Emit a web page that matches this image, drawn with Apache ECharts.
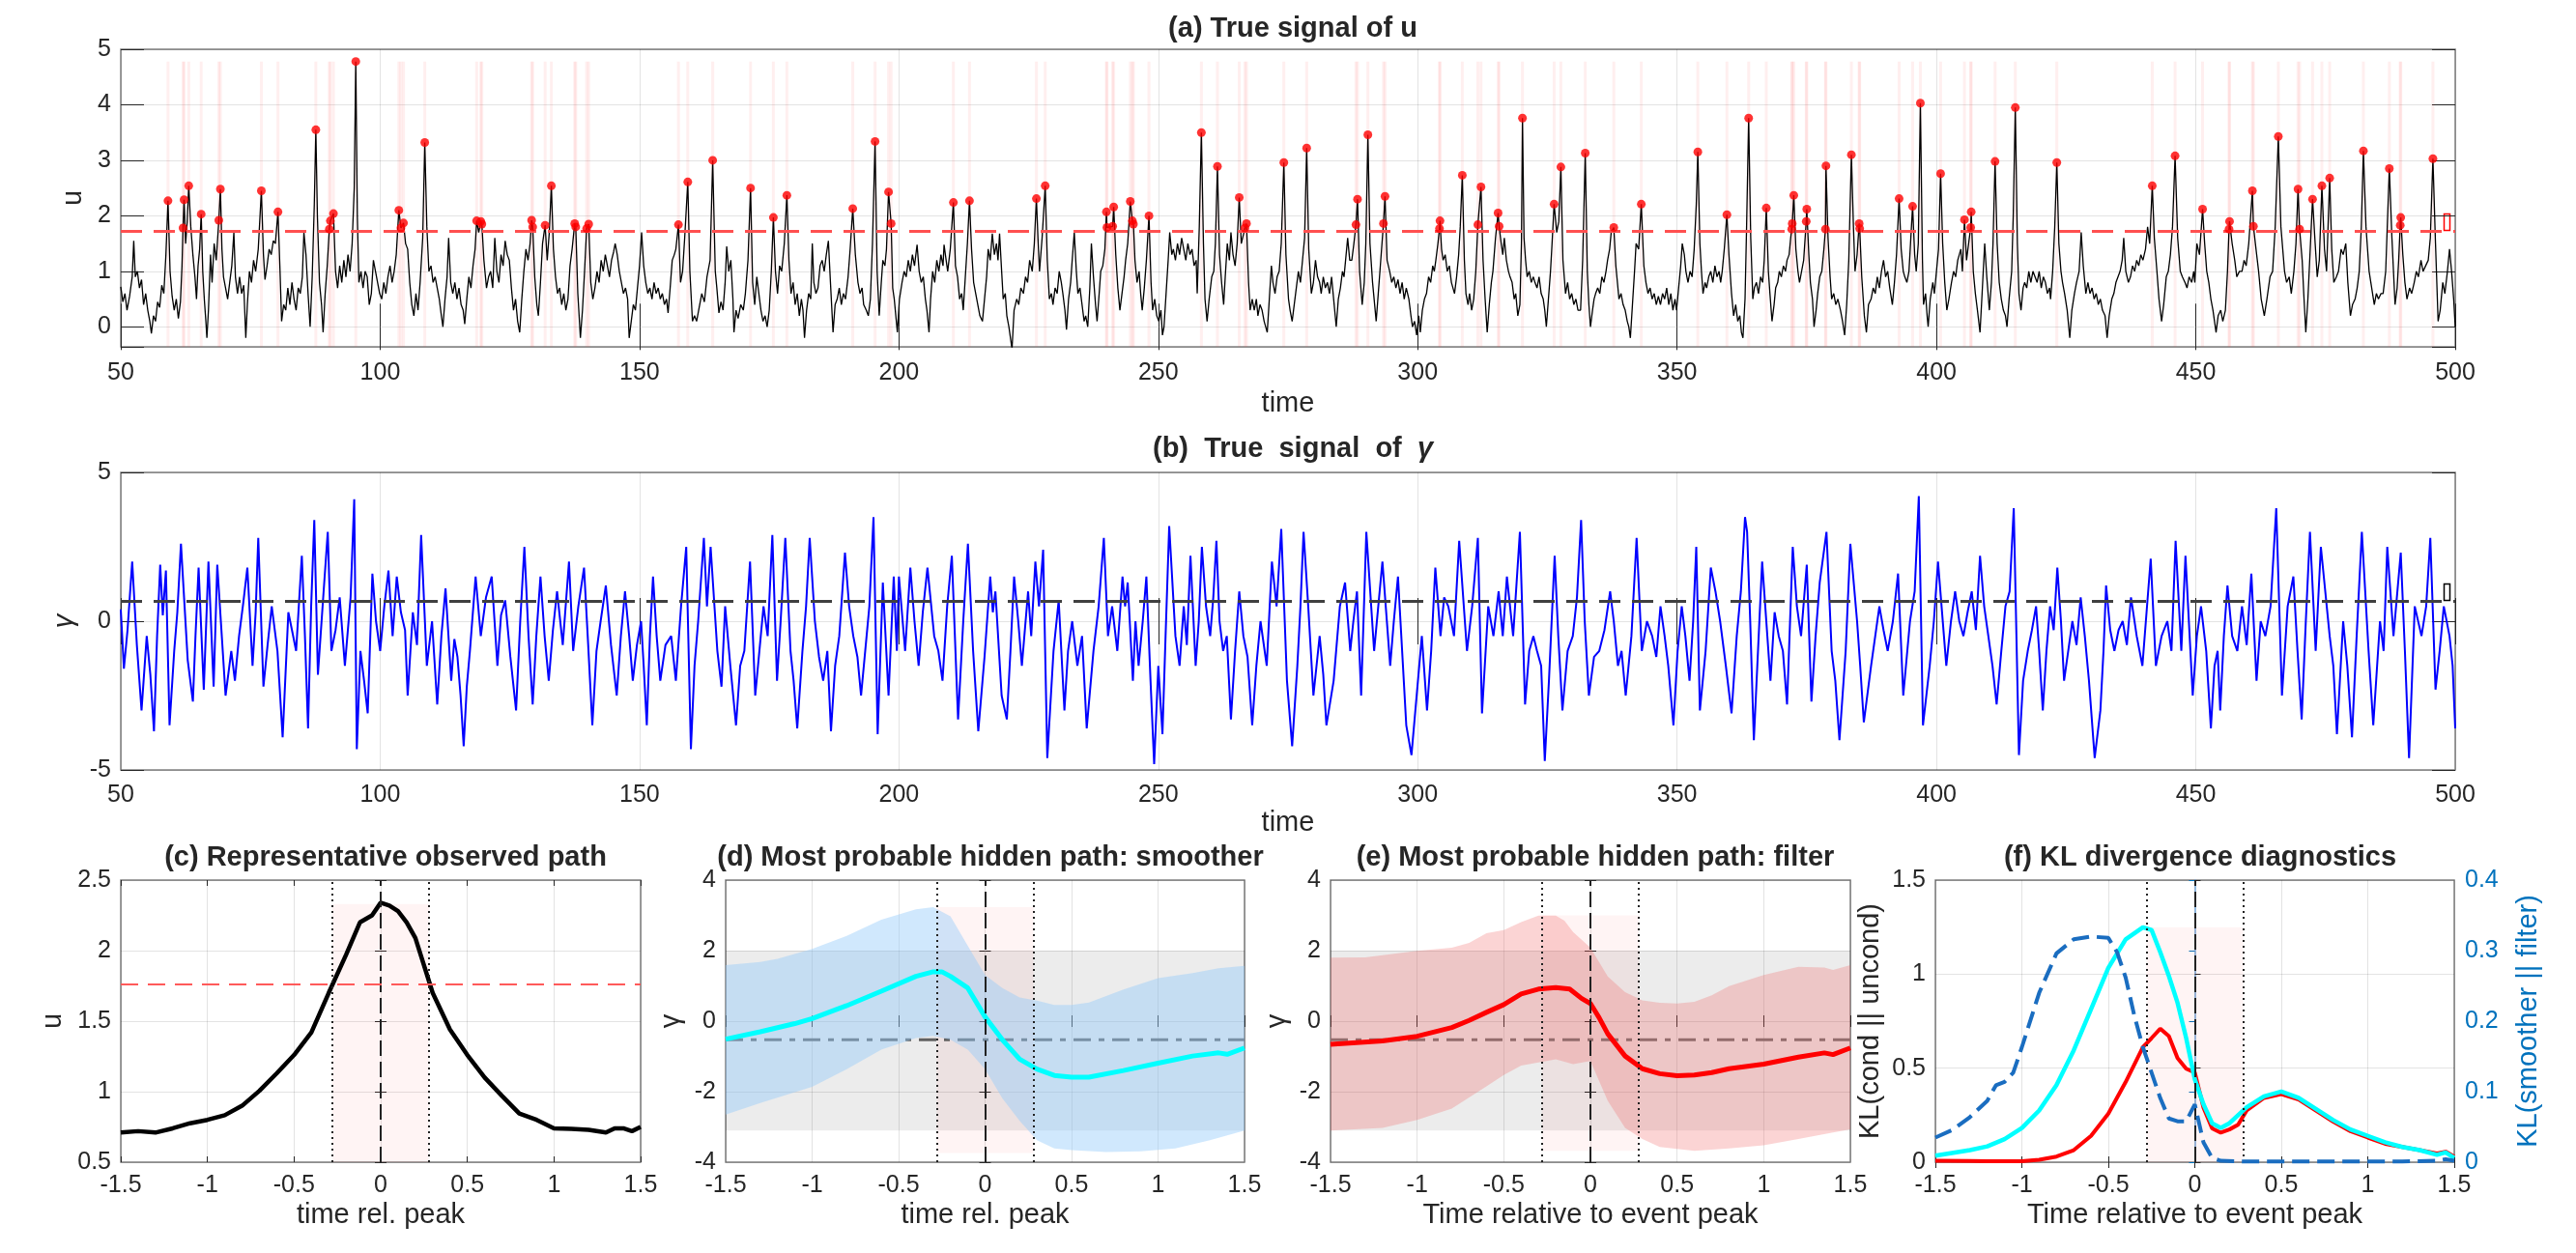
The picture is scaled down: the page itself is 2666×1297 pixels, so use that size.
<!DOCTYPE html>
<html>
<head>
<meta charset="utf-8">
<script src="https://cdn.jsdelivr.net/npm/echarts@6/dist/echarts.min.js"></script>
<style>
  html, body { margin: 0; padding: 0; background: #fff; }
  #chart { width: 2666px; height: 1297px; }
</style>
</head>
<body>
<div id="chart"></div>
<script>
// ---------- (a) observed u: trace, peaks (red dots) ----------
const uTrace = [[50,0.72],[50.4,0.45],[50.8,0.6],[51.2,0.3],[51.7,0.55],[52.2,0.9],[52.5,1.55],[52.8,0.9],[53.2,1.0],[53.6,0.7],[54,0.85],[54.4,0.4],[54.8,0.6],[55.2,0.3],[55.6,0.1],[55.9,-0.12],[56.3,0.2],[56.7,0.1],[57.1,0.45],[57.5,0.35],[57.9,0.75],[58.3,0.6],[58.7,1.3],[59.5,1.0],[59.9,0.55],[60.3,0.3],[60.7,0.5],[61.1,0.15],[61.5,0.45],[61.8,1.1],[62.5,1.5],[62.8,1.9],[63.5,1.8],[63.9,1.3],[64.3,0.9],[64.6,0.5],[64.9,1.1],[65.2,1.4],[65.8,1.0],[66.1,0.5],[66.4,0.1],[66.6,-0.2],[66.9,0.3],[67.3,1.3],[67.6,0.8],[68,1.5],[68.4,1.2],[69.5,1.4],[69.8,0.9],[70.2,0.7],[70.6,0.5],[71,0.8],[71.4,1.1],[71.8,1.7],[72.1,0.9],[72.5,0.6],[72.9,0.9],[73.3,0.6],[73.7,0.75],[74.1,-0.2],[74.4,0.4],[74.8,1.0],[75.2,0.8],[75.6,1.2],[76,1.0],[76.5,1.4],[77.5,1.3],[77.8,0.85],[78.2,1.1],[78.6,1.4],[79,1.3],[79.4,1.55],[79.8,1.5],[80.7,1.0],[81,0.1],[81.4,0.4],[81.8,0.3],[82.2,0.7],[82.6,0.4],[83,0.8],[83.4,0.5],[83.8,0.3],[84.2,0.7],[84.6,0.6],[85,0.9],[85.3,1.7],[85.7,1.3],[86.1,0.6],[86.5,0.0],[86.9,0.9],[87.3,2.2],[87.9,2.0],[88.3,0.8],[88.7,0.4],[89,-0.1],[89.4,0.6],[89.8,1.1],[91.4,1.0],[91.8,0.7],[92.2,1.1],[92.6,0.8],[93,1.2],[93.4,0.9],[93.8,1.3],[94.2,1.0],[94.6,1.5],[95,2.5],[95.6,2.0],[95.9,0.8],[96.3,1.0],[96.7,0.7],[97.1,1.0],[97.5,0.9],[97.9,0.4],[98.3,0.6],[98.7,1.2],[99.1,1.0],[99.5,0.8],[99.9,0.6],[100.3,0.5],[100.7,0.8],[101.1,0.6],[101.5,0.9],[101.9,1.1],[102.3,0.8],[102.7,1.0],[103.1,1.3],[104.9,1.5],[105.3,1.4],[105.7,0.8],[106.1,0.4],[106.5,0.2],[106.9,0.6],[107.3,0.3],[107.7,0.8],[108.2,1.6],[109,1.8],[109.4,1.0],[109.8,1.1],[110.2,0.8],[110.6,0.9],[111,0.7],[111.4,0.5],[111.8,0.2],[112.1,0.0],[112.5,0.5],[112.9,0.9],[113.2,1.6],[113.6,0.8],[114,0.6],[114.4,0.8],[114.8,0.5],[115.2,0.7],[115.6,0.4],[116,0.3],[116.3,0.05],[116.7,0.5],[117.1,0.9],[117.5,0.7],[117.9,1.1],[118.3,1.4],[119.0,1.7],[120,1.2],[120.5,0.7],[120.9,0.9],[121.3,1.0],[121.7,0.7],[122.1,1.6],[122.5,1.0],[122.9,0.8],[123.3,1.3],[123.7,1.1],[124.1,1.55],[124.5,1.3],[124.9,1.2],[125.3,0.7],[125.7,0.3],[126.1,0.5],[126.5,0.1],[126.9,-0.1],[127.3,0.5],[127.7,1.0],[128.1,1.4],[128.5,1.2],[128.9,1.5],[129.8,0.9],[130.2,0.4],[130.5,0.2],[130.9,0.8],[131.3,1.5],[132.2,1.2],[132.6,1.7],[133.4,1.4],[133.8,0.9],[134.2,0.6],[134.6,0.7],[135,0.4],[135.4,0.6],[135.8,0.3],[136.2,0.5],[136.6,1.1],[137,1.4],[138.1,0.6],[138.6,-0.2],[139,0.3],[139.4,1.0],[140.6,0.8],[141,0.5],[141.4,0.7],[141.8,1.0],[142.2,0.8],[142.6,1.2],[143,1.0],[143.4,1.3],[143.8,1.1],[144.2,0.9],[144.6,1.2],[145,1.35],[145.3,1.5],[145.7,1.3],[146.1,1.0],[146.5,0.8],[146.9,0.6],[147.3,0.7],[147.7,0.5],[148,-0.2],[148.4,0.1],[148.8,0.4],[149.2,0.3],[149.6,0.7],[150,1.1],[150.4,1.7],[150.8,1.1],[151.2,0.8],[151.6,0.6],[152,0.7],[152.4,0.5],[152.8,0.8],[153.2,0.6],[153.6,0.7],[154,0.5],[154.4,0.6],[154.8,0.4],[155.2,0.5],[155.5,0.25],[155.9,0.7],[156.3,1.2],[156.7,1.3],[157,1.4],[157.9,0.8],[158.3,1.0],[158.7,1.6],[159.7,1.0],[160.2,0.1],
[160.6,0.2],[161.0,0.1],[161.5,0.35],[162.0,0.6],[162.5,0.45],[163.0,0.9],[163.6,1.2],[164.6,1.0],[164.9,0.7],[165.3,0.25],[165.7,0.45],[166.1,0.3],[166.5,0.8],[166.8,1.45],[167.2,1.0],[167.6,1.2],[168.0,0.5],[168.2,-0.1],[168.6,0.3],[169.0,0.15],[169.5,0.4],[170.0,0.3],[170.4,0.6],[170.9,1.2],[171.8,0.8],[172.2,0.4],[172.6,0.9],[173.0,0.6],[173.4,0.3],[173.8,0.1],[174.2,0.2],[174.6,0.0],[175.0,0.3],[175.4,1.0],[176.2,1.0],[176.6,0.6],[177.0,1.1],[177.4,1.0],[177.9,1.5],[178.8,1.2],[179.2,0.6],[179.6,0.8],[180.0,0.4],[180.4,0.6],[180.8,0.2],[181.2,0.5],[181.5,0.3],[181.8,-0.2],[182.2,0.3],[182.6,0.6],[183.0,0.5],[183.3,1.5],[183.6,0.8],[184.0,0.6],[184.4,0.7],[184.8,1.1],[185.2,1.2],[185.6,1.0],[186.0,1.3],[186.4,1.55],[186.8,0.8],[187.3,-0.1],[187.7,0.4],[188.1,0.5],[188.5,0.7],[188.9,0.4],[189.3,0.6],[189.7,0.5],[190.2,0.9],[190.6,1.4],[191.6,1.3],[192.1,0.8],[192.5,0.6],[192.9,0.7],[193.2,0.4],[193.7,0.3],[194.1,0.2],[194.5,0.5],[194.9,1.5],[195.8,1.0],[196.2,0.2],[196.6,0.8],[196.9,1.2],[197.3,1.1],[197.6,1.4],[198.8,0.7],[199.1,0.5],[199.4,0.2],[199.7,-0.1],[200.1,0.5],[200.6,0.8],[201.0,1.0],[201.4,0.9],[201.8,1.2],[202.2,1.0],[202.6,1.3],[203.0,1.1],[203.5,1.48],[203.9,1.0],[204.3,0.8],[204.7,0.9],[205.1,0.5],[205.4,0.3],[205.8,-0.1],[206.1,0.5],[206.5,1.0],[206.9,0.8],[207.3,1.2],[207.7,1.0],[208.1,1.3],[208.5,1.1],[208.7,1.48],[209.1,1.2],[209.4,1.0],[209.9,1.4],[210.9,1.1],[211.3,0.9],[211.7,0.5],[212.1,0.6],[212.4,0.3],[212.8,0.9],[213.2,1.5],[214.0,1.4],[214.4,0.8],[214.8,0.6],[215.2,0.4],[215.6,0.2],[216.1,0.1],[216.5,0.5],[216.9,0.9],[217.2,1.4],[217.6,1.2],[218.0,1.68],[218.4,1.3],[218.8,1.5],[219.1,1.2],[219.4,1.68],[219.8,1.0],[220.1,0.5],[220.5,0.6],[220.8,0.2],[221.2,0.0],[221.8,-0.4],[222.2,0.3],[222.7,0.5],[223.1,0.4],[223.5,0.7],[224.0,0.6],[224.4,0.9],[224.8,0.8],[225.2,1.2],[225.7,1.0],[226.1,1.5],[226.8,1.6],[227.1,1.0],[227.6,1.6],[228.6,1.2],[229.0,0.5],[229.4,0.6],[229.7,0.4],[230.1,0.7],[230.5,0.6],[230.9,1.0],[231.3,0.8],[231.6,0.6],[232.0,0.3],[232.3,-0.05],[232.7,0.5],[233.1,0.8],[233.4,1.2],[233.8,1.7],[234.2,1.0],[234.5,0.6],[234.9,0.7],[235.3,0.4],[235.7,0.1],[236.0,0.2],[236.4,0.0],[236.8,0.7],[237.1,1.5],[237.5,0.9],[237.9,0.4],[238.2,0.1],[238.6,0.6],[238.9,1.0],[239.3,1.1],[239.7,1.4],[241.8,1.3],[242.2,0.7],[242.6,0.3],[243.0,0.6],[243.4,0.9],[243.7,1.2],[244.1,1.5],[245.5,1.2],[245.9,0.8],[246.3,1.0],[246.6,0.6],[246.9,0.3],[247.3,0.7],[247.7,1.2],[248.6,0.8],[248.9,0.3],[249.3,0.5],[249.7,0.2],[250.1,0.1],[250.5,0.3],[250.8,-0.15],[251.1,0.0],[251.5,0.6],[251.9,1.2],[252.2,1.7],[252.6,1.3],[252.9,1.4],[253.3,1.2],[253.7,1.5],[254.1,1.3],[254.5,1.6],[254.9,1.4],[255.3,1.2],[255.7,1.5],[256.1,1.3],[256.5,1.4],[256.9,1.1],[257.3,1.2],[257.5,0.6],[257.9,1.8],[258.7,1.5],[259.0,0.5],[259.4,0.1],[259.8,0.5],[260.3,0.9],[260.7,1.0],[261.0,1.5],[261.8,1.3],[262.2,0.8],[262.6,0.4],[262.9,0.9],[263.3,1.5],[263.7,1.2],[264.0,1.7],[264.4,1.3],[264.8,1.1],[265.2,1.5],[266.0,1.5],[267.4,0.8],[267.7,0.3],[268.1,0.5],[268.5,0.3],[268.9,0.5],[269.2,0.2],[269.6,0.4],[270.0,0.3],[270.4,0.1],[270.7,0.0],[271.0,-0.1],[271.4,0.5],[271.8,1.1],[272.1,0.8],[272.5,0.6],[272.9,0.9],[273.3,1.0],[273.7,1.5],[274.6,1.3],[275.1,0.5],[275.4,0.3],[275.8,0.1],[276.2,0.4],[276.6,0.7],[277.0,1.0],[277.4,0.8],[277.8,1.2],[278.2,1.6],[279.0,1.4],[279.5,0.6],[279.9,0.8],[280.3,1.2],[280.7,0.9],[281.1,0.8],[281.4,0.6],[281.8,0.9],[282.2,0.7],[282.6,0.8],[283.0,0.6],[283.4,0.9],[283.8,0.5],[284.3,0.0],[284.7,0.5],[285.1,0.7],[285.5,1.0],[285.8,0.9],[286.2,1.3],[286.5,1.6],[286.9,1.2],[287.3,1.2],[287.7,1.5],[288.8,1.0],[289.3,0.4],[289.7,0.8],[290.0,1.5],[290.8,1.5],[291.3,0.8],[291.6,0.5],[292.0,0.1],[292.4,0.6],[292.8,1.1],[294.1,1.2],[294.6,1.0],[295.0,0.8],[295.4,0.9],[295.8,0.7],[296.2,0.85],[296.6,0.6],[297.0,0.8],[297.4,0.5],[297.8,0.7],[298.3,0.5],[298.7,0.2],[299.0,0.0],[299.4,0.1],[299.8,-0.15],[300.2,0.2],[300.5,-0.1],[300.9,0.3],[301.3,0.5],[301.7,0.6],[302.1,0.9],[302.5,0.8],[302.9,1.1],[303.2,1.0],[303.5,1.2],[303.9,1.5],[304.6,1.4],[304.9,1.2],[305.3,1.3],[305.7,1.0],[306.1,1.1],[306.5,0.8],[306.8,0.7],[307.1,0.6],[307.5,0.9],[307.9,1.3],[308.2,1.8],[309.0,1.2],[309.3,0.6],[309.7,0.4],[310.0,0.6],[310.4,0.3],[310.8,0.5],[311.2,1.0],[312.6,1.2],[313.0,0.5],[313.4,-0.1],[313.8,0.4],[314.2,0.8],[314.5,1.0],[315.0,1.6],[316.1,1.5],[316.4,1.3],[316.7,1.6],[317.1,1.2],[317.5,1.0],[317.8,0.9],[318.2,0.8],[318.6,0.5],[318.9,0.6],[319.3,0.2],[319.7,0.4],[320.0,1.5],[320.5,1.6],[320.8,1.2],[321.1,0.9],[321.5,1.0],[321.9,0.8],[322.3,0.9],[322.6,0.8],[323.0,0.7],[323.4,0.9],[323.8,0.6],[324.2,0.5],[324.5,0.3],[324.8,0.0],[325.2,0.5],[325.6,1.0],[325.9,1.5],[326.8,1.7],[327.2,1.9],[328.0,1.2],[328.5,0.6],[328.9,0.8],[329.3,0.5],[329.7,0.6],[330.1,0.4],[330.5,0.5],[330.9,0.3],[331.4,0.3],[331.8,1.2],[332.7,1.0],[333.0,0.4],[333.3,0.0],[333.7,0.3],[334.0,0.5],[334.3,0.6],[334.7,0.7],[335.1,0.6],[335.5,0.9],[335.9,0.8],[336.3,1.0],[336.6,1.2],[337.0,1.4],[337.3,1.7],[338.2,1.1],[338.5,0.8],[338.8,0.5],[339.2,0.6],[339.6,0.4],[340.0,0.3],[340.4,0.1],[340.7,0.0],[341.0,-0.2],[341.4,0.4],[341.8,1.0],[342.1,1.5],[342.6,1.4],[343.6,1.1],[344.0,0.8],[344.4,0.6],[344.8,0.7],[345.2,0.5],[345.6,0.6],[346.0,0.4],[346.4,0.55],[346.8,0.4],[347.2,0.6],[347.6,0.5],[348.0,0.7],[348.4,0.4],[348.8,0.6],[349.2,0.3],[349.6,0.5],[349.9,0.3],[350.3,0.7],[350.7,1.1],[351.0,1.5],[351.4,1.3],[351.7,1.0],[352.1,0.8],[352.5,1.0],[352.9,0.9],[353.3,1.4],[353.7,2.2],[354.4,1.5],[354.7,1.0],[355.0,0.6],[355.4,0.8],[355.7,0.7],[356.1,0.9],[356.5,1.0],[356.9,0.8],[357.3,1.1],[357.7,0.9],[358.1,1.0],[358.4,0.8],[358.7,1.0],[359.1,1.4],[360.0,1.3],[360.5,0.6],[360.9,0.2],[361.3,0.4],[361.7,0.1],[362.1,0.2],[362.4,-0.1],[362.7,-0.2],[363.1,0.5],[363.4,1.8],[364.2,1.6],[364.6,0.5],[364.9,0.7],[365.3,0.8],[365.7,0.6],[366.1,0.9],[366.5,0.8],[366.8,1.2],[367.6,1.0],[367.9,0.6],[368.3,0.1],[368.7,0.4],[369.0,0.7],[369.4,0.8],[369.7,1.0],[370.1,0.9],[370.5,1.1],[370.9,1.0],[371.2,1.2],[371.6,1.3],[371.9,1.6],[372.9,1.4],[373.3,1.0],[373.6,0.8],[374.0,1.0],[374.4,1.2],[375.4,1.3],[375.7,0.8],[376.1,0.5],[376.4,0.0],[376.8,0.3],[377.1,0.6],[377.5,0.9],[377.9,1.0],[378.3,1.4],[379.1,1.6],[379.5,0.9],[379.8,0.5],[380.2,0.6],[380.6,0.4],[381.0,0.5],[381.5,0.3],[381.9,0.1],[382.3,-0.15],[382.7,0.4],[383.1,1.2],[384.0,1.8],[384.3,1.0],[384.7,1.3],[385.6,0.9],[386.1,0.2],[386.5,-0.1],[386.9,0.4],[387.4,0.5],[387.8,0.7],[388.2,0.6],[388.6,0.9],[389.0,0.7],[389.4,1.0],[389.8,1.2],[390.2,0.9],[390.6,1.0],[391.0,0.7],[391.5,0.4],[391.9,0.8],[392.3,1.3],[393.2,1.4],[393.6,1.0],[393.9,0.9],[394.3,0.8],[394.7,1.0],[395.0,1.5],[395.8,1.3],[396.1,1.0],[396.5,1.5],[397.3,1.2],[397.5,0.4],[397.9,0.6],[398.2,0.2],[398.4,0.0],[398.8,0.5],[399.3,0.8],[399.6,0.6],[400.0,1.0],[400.4,1.4],[401.2,1.5],[401.6,0.8],[402.0,0.3],[402.4,0.5],[402.9,0.8],[403.3,1.0],[403.7,0.9],[404.1,1.2],[404.7,1.4],[405.0,1.0],[405.8,1.2],[406.2,1.5],[407.1,1.0],[407.5,0.6],[407.9,0.3],[408.4,-0.1],[408.8,0.6],[409.3,1.5],[409.7,0.9],[410.2,0.3],[410.6,0.8],[410.9,1.5],[411.7,1.5],[412.1,0.8],[412.5,0.5],[412.9,0.3],[413.3,0.2],[413.6,0.0],[414.0,0.5],[414.5,1.0],[414.8,2.0],[415.6,1.5],[415.9,0.6],[416.3,0.3],[416.7,0.7],[417.0,0.8],[417.4,0.7],[417.8,1.0],[418.2,0.8],[418.6,1.0],[419.0,0.9],[419.4,0.8],[419.8,1.0],[420.2,0.7],[420.6,0.9],[421.0,0.8],[421.4,0.6],[421.8,0.7],[422.0,0.5],[422.4,1.0],[422.8,1.8],[423.6,1.5],[424.0,1.0],[424.3,0.8],[424.7,0.6],[425.2,0.3],[425.7,-0.2],[426.1,0.3],[426.6,0.6],[427.0,0.8],[427.5,1.0],[427.9,1.7],[428.3,1.1],[428.8,0.6],[429.2,0.8],[429.6,0.6],[430.0,0.7],[430.4,0.5],[430.8,0.6],[431.2,0.4],[431.6,0.5],[432.0,0.3],[432.5,0.2],[432.9,-0.2],[433.3,0.2],[433.8,0.5],[434.2,0.6],[434.6,0.8],[435.0,0.9],[435.4,1.0],[435.8,1.2],[436.1,1.6],[436.5,1.0],[437.0,0.8],[437.4,0.9],[437.8,1.1],[438.2,1.0],[438.6,1.2],[439.0,1.1],[439.4,1.3],[439.8,1.2],[440.3,1.4],[440.7,1.8],[441.1,1.5],[442.0,1.6],[442.5,1.0],[442.9,0.5],[443.4,0.1],[443.8,0.4],[444.3,0.9],[444.7,1.0],[445.1,1.3],[445.5,1.8],[446.5,1.6],[447.0,1.0],[447.4,0.9],[447.9,0.8],[448.3,0.7],[448.7,0.9],[449.2,0.8],[449.6,1.0],[449.8,0.8],[450.2,1.5],[450.7,1.3],[451.7,1.5],[452.1,1.0],[452.5,0.8],[452.9,0.5],[453.3,0.3],[453.9,-0.1],[454.3,0.2],[454.8,0.3],[455.2,0.1],[455.7,0.3],[456.1,1.0],[457.0,1.5],[457.5,1.2],[457.9,0.9],[458.4,1.0],[458.9,1.0],[459.3,1.2],[459.7,1.1],[460.2,1.5],[461.6,1.4],[462.1,1.0],[462.6,0.5],[463.2,0.2],[463.7,0.5],[464.3,0.9],[464.8,1.0],[465.3,1.8],[466.4,1.8],[467.1,1.0],[467.5,0.8],[468.0,0.9],[468.4,0.6],[468.9,1.0],[469.3,1.5],[470.5,1.2],[470.8,0.6],[471.2,-0.1],[471.6,0.5],[472.1,1.5],[473.0,1.5],[473.4,0.9],[473.8,1.2],[474.8,1.4],[475.2,1.0],[476.2,1.4],[476.6,0.8],[477.1,0.9],[477.5,1.0],[478.0,1.4],[478.4,1.3],[478.9,1.5],[479.3,0.8],[479.8,0.2],[480.2,0.4],[480.7,0.5],[481.1,0.7],[481.5,1.0],[481.9,1.8],[482.8,1.8],[483.4,1.0],[483.9,0.7],[484.4,0.4],[484.8,0.6],[485.2,0.5],[485.7,0.6],[486.1,0.6],[486.6,1.0],[486.9,1.8],[487.8,1.6],[488.4,0.4],[488.8,0.7],[489.1,1.2],[489.9,1.3],[490.3,0.8],[490.7,0.5],[491.2,0.7],[491.6,0.6],[492.1,0.8],[492.5,1.0],[492.9,0.9],[493.4,1.2],[493.8,1.0],[494.3,1.1],[494.8,1.2],[495.2,1.6],[496.2,1.5],[496.7,0.1],[497.1,0.3],[497.6,0.8],[498.0,0.6],[498.5,1.0],[498.9,1.4],[499.3,1.0],[499.7,0.5],[500.0,0.0]];

const peakT = [59.1,62.0,62.2,63.1,65.5,68.9,69.2,77.1,80.3,87.6,90.2,90.4,91.0,95.3,103.6,104.0,104.5,108.6,118.6,119.4,119.6,129.2,129.4,131.8,133.0,137.5,137.7,139.8,140.2,157.5,159.3,164.1,171.4,175.8,178.4,191.1,195.4,198.0,198.5,210.5,213.6,226.5,228.2,240.0,240.1,241.2,241.4,244.6,245.0,245.2,248.2,258.3,261.4,265.6,266.7,267.0,274.2,278.6,288.1,288.4,290.4,293.4,293.7,304.2,304.3,308.6,311.6,312.2,315.5,315.7,320.2,326.3,327.6,332.3,337.8,343.1,354.0,359.6,363.8,367.2,372.1,372.2,372.5,374.9,375.0,378.6,378.7,383.6,385.1,385.2,392.8,395.4,396.9,400.8,405.4,406.6,406.7,411.3,415.2,423.2,441.6,446.0,451.3,456.4,456.5,460.9,461.1,465.9,469.7,470.0,472.5,474.3,475.8,482.3,487.3,489.4,489.5,495.7];
const peakU = [2.27,1.78,2.29,2.54,2.03,1.92,2.48,2.45,2.07,3.55,1.76,1.91,2.04,4.78,2.10,1.78,1.87,3.32,1.91,1.90,1.85,1.92,1.80,1.83,2.54,1.86,1.80,1.77,1.85,1.84,2.61,3.00,2.50,1.97,2.37,2.13,3.34,2.43,1.86,2.24,2.27,2.31,2.54,2.07,1.79,1.81,2.16,2.26,1.91,1.85,2.00,3.50,2.89,2.33,1.78,1.86,2.96,3.22,1.84,2.30,3.46,1.86,2.35,1.77,1.91,2.73,1.84,2.52,2.05,1.81,3.76,2.21,2.88,3.13,1.79,2.21,3.15,2.02,3.76,2.14,1.76,1.86,2.37,1.90,2.12,1.76,2.90,3.10,1.86,1.77,2.31,2.17,4.03,2.76,1.93,1.79,2.07,2.98,3.95,2.96,2.54,3.08,2.12,1.76,1.90,2.45,1.81,3.43,2.48,1.76,2.30,2.54,2.68,3.17,2.85,1.83,1.97,3.03];
const uThresh = 1.72;
const bandTop = 4.78;
const winHalf = 0.28;

// ---------- (b) hidden gamma ----------
const gTrace = [[50,0.4],[50.6,-1.6],[51.3,-0.3],[52.2,2.0],[53.1,-0.8],[54.0,-3.0],[55.0,-0.5],[55.7,-1.8],[56.4,-3.7],[57.0,-0.5],[57.6,1.9],[58.1,0.2],[58.7,1.7],[59.4,-3.5],[60.3,-1.0],[60.9,0.3],[61.6,2.6],[62.3,0.5],[62.9,-1.3],[63.9,-2.7],[64.4,-0.5],[65.0,1.8],[66.0,-2.3],[66.9,2.0],[67.9,-2.2],[68.6,1.9],[69.4,-0.3],[70.2,-2.5],[71.3,-1.0],[72.0,-2.0],[72.8,-0.5],[73.6,0.6],[74.4,1.8],[75.4,-1.5],[76.0,0.3],[76.5,2.8],[77.5,-2.2],[78.3,-0.8],[79.1,0.5],[80.2,-1.0],[81.2,-3.9],[82.3,0.3],[83.0,-0.3],[83.8,-1.0],[84.9,2.2],[85.5,-0.5],[86.1,-3.6],[86.7,0.5],[87.3,3.4],[88.0,-1.8],[89.1,1.0],[89.9,3.0],[90.6,-1.0],[91.4,-0.3],[92.2,0.8],[93.2,-1.5],[94.3,0.8],[95.0,4.1],[95.5,-4.3],[96.2,-1.0],[96.9,-2.0],[97.6,-3.1],[98.5,1.6],[99.2,0.0],[100,-1.0],[100.8,0.5],[101.6,1.7],[102.4,-0.5],[103.2,1.5],[104.0,0.3],[104.8,-0.3],[105.3,-2.5],[106.3,0.3],[107.1,-0.8],[107.9,2.9],[109.0,-1.5],[110.0,0.0],[111.0,-2.8],[111.8,-0.5],[112.6,1.1],[113.7,-2.0],[114.3,-0.6],[114.9,-1.2],[115.5,-2.5],[116.1,-4.2],[116.7,-2.2],[117.3,-1.0],[118.4,1.5],[119.4,-0.5],[120.4,0.8],[121.5,1.5],[122.6,-1.5],[123.3,0.2],[124.1,0.7],[125.1,-1.2],[126.2,-3.0],[127.0,0.0],[127.8,2.5],[128.6,-0.5],[129.4,-2.8],[130.1,-0.5],[130.9,1.5],[131.7,-0.5],[132.5,-2.0],[133.3,-0.3],[134.1,1.0],[135.2,-0.8],[136.4,2.0],[137.2,-1.0],[138.2,0.5],[139.3,1.8],[140.1,-0.8],[140.9,-3.5],[141.7,-1.0],[142.5,0.0],[143.5,1.2],[144.5,-0.8],[145.6,-2.5],[146.4,-0.5],[147.2,1.0],[148.0,-0.5],[148.7,-2.0],[149.5,-0.8],[150.3,0.0],[150.8,-1.5],[151.4,-3.5],[152.0,-0.5],[152.6,1.5],[153.3,-0.5],[154.0,-2.0],[155.0,-0.8],[156.1,-0.5],[157.0,-2.0],[158.0,0.5],[159.0,2.5],[159.9,-4.3],[160.6,-1.5],[161.3,0.0],[162.4,2.8],[163.0,0.5],[163.7,2.5],[165.0,-1.0],[165.8,-2.2],[166.5,0.5],[167.5,-1.5],[168.6,-3.5],[169.4,-1.5],[170.2,-1.0],[171.3,2.0],[172.3,-2.5],[173.1,-1.0],[173.9,0.5],[174.7,-0.5],[175.6,2.9],[176.5,-2.0],[177.2,0.0],[178.1,2.8],[179.1,-1.0],[179.7,-2.0],[180.4,-3.6],[181.4,-1.0],[182.1,0.5],[182.8,2.8],[183.8,0.0],[184.6,-1.2],[185.4,-2.0],[186.2,-1.0],[186.9,-3.7],[187.7,-1.5],[188.5,-0.5],[189.6,2.3],[190.4,0.5],[191.2,-0.5],[192.0,-1.2],[192.7,-2.5],[193.5,-1.0],[194.3,0.5],[195.1,3.5],[195.9,-3.8],[196.9,1.3],[198.0,-2.5],[199.0,1.5],[199.6,-1.0],[200.0,1.5],[201.2,-1.0],[202.2,1.8],[203.0,0.0],[203.8,-1.5],[204.6,0.3],[205.5,1.8],[206.8,-0.5],[207.6,-1.0],[208.4,-2.0],[209.3,0.5],[210.2,2.2],[211.4,-3.3],[212.4,0.0],[213.3,2.6],[214.3,-1.0],[215.3,-3.7],[216.5,-1.2],[217.6,1.5],[218.1,0.3],[218.6,1.0],[219.8,-2.5],[220.8,-3.3],[221.5,-1.0],[222.2,1.5],[223.0,0.0],[223.7,-1.5],[224.9,1.0],[225.5,-0.5],[226.3,2.0],[227.0,0.5],[227.8,2.4],[228.6,-4.6],[229.8,-1.0],[230.8,0.7],[231.9,-3.0],[232.6,-1.0],[233.4,0.0],[234.4,-1.5],[235.3,-0.5],[236.2,-3.6],[237.5,-1.0],[238.5,0.5],[239.5,2.8],[240.3,-0.5],[241.1,0.5],[242.1,-1.0],[243.1,1.5],[243.6,0.5],[244.1,1.3],[245.1,-2.0],[245.6,0.0],[246.2,-1.5],[247.0,0.0],[247.7,1.5],[248.5,-2.0],[249.2,-4.8],[250.0,-1.5],[250.8,-3.8],[251.4,-0.5],[252.1,3.2],[253.3,-0.5],[254.1,-1.5],[254.9,0.5],[255.5,-0.8],[256.2,2.2],[257.2,-1.5],[257.8,0.0],[258.4,2.5],[259.2,0.5],[260.0,-0.5],[260.6,0.8],[261.2,2.7],[261.8,0.0],[262.5,-1.0],[263.2,-0.5],[264.0,-3.3],[264.8,-1.0],[265.6,1.0],[266.4,-0.5],[267.2,-1.2],[268.1,-3.5],[268.9,-1.5],[269.7,0.0],[270.9,-1.5],[271.9,2.0],[272.8,0.5],[273.7,3.1],[274.8,-2.0],[275.8,-4.2],[276.8,-1.5],[277.4,0.5],[278.0,3.0],[278.9,0.5],[279.9,-2.5],[281.1,-0.5],[281.8,-1.8],[282.4,-3.5],[283.8,-2.0],[285.0,0.5],[286.0,1.3],[287.0,-1.0],[287.6,0.0],[288.3,1.0],[289.1,-2.5],[290.1,3.0],[291.6,-1.0],[292.4,0.5],[293.2,2.0],[294.7,-1.5],[295.4,0.0],[296.2,1.5],[297.0,-1.0],[297.8,-3.5],[298.8,-4.5],[299.8,-2.5],[300.8,-0.5],[301.8,-3.0],[302.6,-1.0],[303.4,1.8],[304.4,-0.5],[305.1,0.8],[305.9,0.5],[307.0,-0.5],[308.0,2.7],[309.5,-1.0],[310.5,0.5],[311.6,2.8],[312.4,-3.1],[313.6,0.5],[314.6,-0.5],[315.6,1.0],[316.4,-0.5],[317.2,1.5],[318.4,-0.5],[319.7,3.0],[320.7,-2.8],[321.5,-1.0],[322.3,-0.5],[323.0,-1.0],[323.8,-1.5],[324.5,-4.7],[325.3,-2.0],[326.4,2.2],[327.1,-0.5],[327.9,-3.0],[328.9,-1.0],[329.9,-0.5],[330.7,0.8],[331.5,3.4],[332.2,0.0],[333.0,-2.5],[334.0,-1.2],[335.0,-1.0],[336.0,-0.3],[337.1,1.0],[337.8,0.0],[338.6,-1.5],[339.3,-1.0],[340.1,-2.5],[341.2,-0.5],[342.2,2.8],[343.2,-1.0],[344.2,0.0],[345.2,-0.5],[346.0,-1.2],[346.8,0.5],[347.6,-0.5],[348.3,-1.5],[349.3,-3.5],[350.1,-1.0],[350.9,0.5],[351.6,-0.5],[352.4,-2.0],[353.1,0.0],[353.7,2.5],[354.4,-3.0],[355.5,-1.0],[356.5,1.8],[357.4,1.0],[358.3,0.0],[359.4,-1.5],[360.5,-3.1],[361.5,-0.5],[362.3,1.0],[363.1,3.5],[363.5,3.0],[364.1,0.0],[364.8,-4.0],[365.6,-1.0],[366.4,2.0],[367.2,0.0],[368.0,-2.0],[368.8,0.3],[369.6,-0.5],[370.4,-1.0],[371.2,-2.8],[372.3,2.5],[373.1,0.5],[373.9,-0.5],[375.0,1.9],[375.9,-2.7],[376.7,-0.5],[377.5,1.3],[378.8,3.0],[379.8,-1.0],[380.5,-2.0],[381.3,-4.0],[382.5,-1.0],[383.4,2.6],[384.7,0.0],[385.3,-1.5],[386.0,-3.4],[387.4,-1.5],[388.2,-0.5],[389.0,0.5],[389.8,-0.3],[390.6,-1.0],[391.6,0.0],[392.6,1.6],[393.6,-2.5],[394.9,0.0],[395.8,1.0],[396.6,4.2],[397.4,-3.5],[398.7,-1.5],[399.5,0.0],[400.3,2.0],[401.9,-1.5],[402.8,0.0],[403.6,1.0],[404.4,0.0],[405.2,-0.5],[406.0,0.3],[406.8,1.0],[407.6,-0.3],[408.4,2.2],[409.2,0.5],[410.0,-0.5],[410.8,-1.5],[411.6,-2.8],[412.5,-1.0],[413.3,0.5],[414.1,1.0],[414.9,3.8],[415.9,-4.5],[416.7,-2.0],[417.6,-1.0],[418.4,-0.3],[419.2,0.5],[419.8,-1.0],[420.5,-3.0],[421.2,-1.0],[421.9,0.5],[422.6,-0.3],[423.3,1.8],[424.0,0.0],[424.6,-2.0],[425.4,-1.0],[426.2,0.0],[427.0,-0.8],[427.8,0.8],[428.6,-0.5],[429.4,-2.0],[430.5,-4.6],[431.6,-3.0],[432.2,-1.0],[432.7,1.2],[433.5,-0.3],[434.3,-1.0],[435.1,-0.3],[435.9,0.0],[436.7,-0.8],[437.5,0.8],[438.6,-0.5],[439.7,-1.5],[440.5,0.3],[441.3,2.1],[442.3,-1.5],[443.4,-0.5],[444.5,0.0],[445.3,-1.0],[446.1,2.7],[447.2,-1.0],[448.0,2.2],[449.4,-2.5],[450.2,-0.5],[451.0,0.5],[452.0,-1.0],[452.9,-3.6],[453.6,-1.5],[454.2,-1.0],[454.7,-3.0],[455.4,-0.5],[456.1,1.2],[457.0,-0.5],[458.0,-1.0],[458.9,0.5],[459.8,-0.8],[460.7,1.6],[461.7,-2.0],[462.5,0.0],[463.4,-0.5],[464.4,0.5],[465.5,3.8],[466.6,-2.5],[467.7,0.5],[468.8,1.5],[469.6,-1.0],[470.4,-3.3],[471.2,0.0],[472.0,3.0],[473.1,-1.0],[474.1,2.5],[475.8,-0.5],[476.5,-1.5],[477.2,-3.8],[478.4,0.0],[479.2,-1.5],[480.1,-3.9],[481.0,-0.5],[482.0,3.0],[483.3,-1.0],[484.2,-3.5],[485.5,0.0],[486.2,-1.0],[486.9,2.5],[488.1,-0.5],[489.5,2.3],[490.3,-1.0],[491.1,-4.6],[492.2,0.5],[493.5,-0.5],[494.4,0.5],[495.2,2.8],[496.2,-2.3],[497.0,-1.0],[497.8,0.5],[498.9,-0.5],[499.5,-1.5],[500.0,-3.6]];
const gThresh = 0.66;

// ---------- (c) representative observed path ----------
const cT = [-1.5,-1.4,-1.3,-1.2,-1.1,-1.0,-0.9,-0.8,-0.7,-0.6,-0.5,-0.4,-0.3,-0.2,-0.12,-0.05,0,0.05,0.1,0.15,0.2,0.3,0.4,0.5,0.6,0.7,0.8,0.9,1.0,1.1,1.2,1.3,1.35,1.4,1.45,1.5];
const cU = [0.71,0.72,0.71,0.74,0.776,0.80,0.833,0.90,1.006,1.13,1.26,1.42,1.70,1.97,2.20,2.25,2.34,2.32,2.28,2.20,2.09,1.70,1.44,1.26,1.10,0.97,0.845,0.80,0.74,0.737,0.73,0.71,0.74,0.74,0.72,0.75];
const cThresh = 1.76;
const cWinTop = 2.33;

// ---------- (d) smoother ----------
const dUpT = [-1.5,-1.3,-1.2,-1.0,-0.8,-0.6,-0.4,-0.3,-0.2,-0.1,0,0.1,0.2,0.3,0.4,0.5,0.6,0.8,1.0,1.2,1.35,1.5];
const dUp  = [1.59,1.68,1.77,2.05,2.42,2.88,3.17,3.23,2.97,2.14,1.31,0.94,0.67,0.58,0.46,0.46,0.53,0.9,1.22,1.36,1.5,1.57];
const dLoT = [-1.5,-1.3,-1.0,-0.8,-0.6,-0.4,-0.3,-0.2,-0.1,0,0.1,0.2,0.3,0.4,0.5,0.7,0.9,1.1,1.3,1.5];
const dLo  = [-2.65,-2.32,-1.86,-1.36,-0.81,-0.48,-0.42,-0.53,-0.81,-1.36,-2.19,-2.83,-3.38,-3.61,-3.66,-3.71,-3.69,-3.61,-3.38,-3.1];
const dMeanT = [-1.5,-1.3,-1.1,-1.0,-0.8,-0.6,-0.4,-0.3,-0.25,-0.2,-0.1,0,0.1,0.2,0.3,0.4,0.5,0.6,0.8,1.0,1.2,1.35,1.4,1.5];
const dMean  = [-0.51,-0.3,-0.07,0.07,0.44,0.85,1.27,1.40,1.40,1.27,0.94,0.12,-0.53,-1.08,-1.36,-1.54,-1.59,-1.59,-1.40,-1.19,-0.99,-0.90,-0.94,-0.76];
const dWin = [-3.74, 3.23];

// ---------- (e) filter ----------
const eUpT = [-1.5,-1.3,-1.0,-0.8,-0.7,-0.6,-0.5,-0.4,-0.3,-0.2,-0.15,-0.1,0,0.1,0.2,0.3,0.4,0.5,0.6,0.7,0.8,1.0,1.2,1.35,1.4,1.5];
const eUp  = [1.8,1.81,1.99,2.08,2.22,2.49,2.58,2.81,2.99,2.99,2.85,2.53,2.08,1.27,0.82,0.59,0.52,0.50,0.55,0.73,0.99,1.31,1.54,1.52,1.45,1.59];
const eLoT = [-1.5,-1.2,-1.0,-0.8,-0.6,-0.5,-0.4,-0.3,-0.2,-0.1,0,0.1,0.2,0.3,0.4,0.6,0.8,1.0,1.2,1.4,1.5];
const eLo  = [-3.1,-3.03,-2.8,-2.48,-1.85,-1.53,-1.26,-1.17,-1.08,-1.22,-1.13,-2.26,-3.03,-3.34,-3.57,-3.68,-3.61,-3.52,-3.34,-3.16,-3.07];
const eMeanT = [-1.5,-1.2,-1.0,-0.8,-0.7,-0.6,-0.5,-0.4,-0.3,-0.2,-0.12,-0.05,0,0.05,0.1,0.2,0.3,0.4,0.5,0.6,0.7,0.8,1.0,1.2,1.35,1.4,1.5];
const eMean  = [-0.66,-0.56,-0.43,-0.18,0.02,0.25,0.47,0.77,0.91,0.95,0.91,0.64,0.5,0.1,-0.36,-0.99,-1.35,-1.49,-1.55,-1.53,-1.46,-1.35,-1.22,-1.02,-0.90,-0.95,-0.76];
const eWin = [-3.68, 3.0];

// shared for (d),(e)
const climRange = [-3.1, 2.0];
const gBase = -0.53;

// ---------- (f) KL diagnostics ----------
const fT = [-1.5,-1.3,-1.2,-1.1,-1.0,-0.9,-0.8,-0.7,-0.6,-0.5,-0.4,-0.3,-0.25,-0.2,-0.15,-0.1,-0.05,0,0.05,0.1,0.15,0.2,0.25,0.3,0.4,0.5,0.6,0.7,0.8,0.9,1.0,1.1,1.2,1.3,1.4,1.45,1.5];
const klFilter   = [0.008,0.006,0.005,0.005,0.005,0.013,0.03,0.064,0.14,0.258,0.426,0.612,0.66,0.71,0.67,0.553,0.497,0.477,0.29,0.18,0.157,0.174,0.199,0.275,0.342,0.362,0.334,0.275,0.216,0.165,0.131,0.098,0.081,0.064,0.047,0.056,0.03];
const klSmoother = [0.035,0.064,0.084,0.123,0.182,0.275,0.41,0.595,0.814,1.033,1.185,1.249,1.235,1.117,0.99,0.848,0.66,0.44,0.308,0.207,0.182,0.207,0.25,0.292,0.35,0.376,0.342,0.283,0.224,0.174,0.14,0.106,0.081,0.064,0.039,0.052,0.022];
const klSFT = [-1.5,-1.4,-1.3,-1.2,-1.15,-1.1,-1.05,-1.0,-0.9,-0.8,-0.7,-0.6,-0.5,-0.45,-0.4,-0.35,-0.3,-0.25,-0.2,-0.15,-0.1,-0.05,0,0.05,0.1,0.15,0.3,0.6,0.9,1.2,1.4,1.45,1.5];
const klSF  = [0.035,0.046,0.064,0.087,0.109,0.114,0.127,0.163,0.24,0.296,0.316,0.32,0.318,0.298,0.262,0.208,0.163,0.127,0.091,0.062,0.058,0.058,0.082,0.028,0.006,0.002,0.001,0.001,0.001,0.001,0.002,0.004,0.002];
const fWinTop = 1.25;

// ---------- helpers ----------
const FONT = '"Liberation Sans", Arial, Helvetica, sans-serif';
const INK = '#262626';
const GRIDLINE = 'rgba(0,0,0,0.11)';
const zip = (a, b) => a.map((v, i) => [v, b[i]]);

const grids = [
  { left: 125,  top: 51,  width: 2416, height: 308 },
  { left: 125,  top: 489, width: 2416, height: 308 },
  { left: 125,  top: 911, width: 538,  height: 292 },
  { left: 751,  top: 911, width: 537,  height: 292 },
  { left: 1377, top: 911, width: 538,  height: 292 },
  { left: 2003, top: 911, width: 537,  height: 292 }
].map(g => Object.assign(g, { show: true, borderColor: '#808080', borderWidth: 1.5,
  backgroundColor: 'transparent', containLabel: false, outerBoundsMode: 'none' }));

function xAxes(gi, min, max, interval, name, tick, margin, nameGap) {
  return [
    { type: 'value', gridIndex: gi, min, max, interval, position: 'bottom',
      axisLine: { show: false },
      axisTick: { inside: true, length: tick, lineStyle: { color: INK } },
      axisLabel: { fontSize: 25, color: INK, fontFamily: FONT, margin },
      splitLine: { show: true, lineStyle: { color: GRIDLINE } },
      name, nameLocation: 'middle', nameGap,
      nameTextStyle: { fontSize: 29, color: INK, fontFamily: FONT } },
    { type: 'value', gridIndex: gi, min, max, interval, position: 'top',
      axisLine: { show: false },
      axisTick: { inside: true, length: tick, lineStyle: { color: INK } },
      axisLabel: { show: false }, splitLine: { show: false } }
  ];
}
function yLeft(gi, min, max, interval, name, nameGap, tick, extra) {
  return Object.assign({
    type: 'value', gridIndex: gi, min, max, interval, position: 'left',
    axisLine: { show: false },
    axisTick: { inside: true, length: tick, lineStyle: { color: INK } },
    axisLabel: { fontSize: 25, color: INK, fontFamily: FONT, margin: 10 },
    splitLine: { show: true, lineStyle: { color: GRIDLINE } },
    name, nameLocation: 'middle', nameGap, nameRotate: 90,
    nameTextStyle: { fontSize: 29, color: INK, fontFamily: FONT }
  }, extra || {});
}
function yRight(gi, min, max, interval, tick, extra) {
  return Object.assign({
    type: 'value', gridIndex: gi, min, max, interval, position: 'right',
    axisLine: { show: false },
    axisTick: { inside: true, length: tick, lineStyle: { color: INK } },
    axisLabel: { show: false }, splitLine: { show: false }
  }, extra || {});
}

const intOnly = v => (Math.abs(v - Math.round(v)) < 1e-6 ? String(Math.round(v)) : '');

const xAxis = [].concat(
  xAxes(0, 50, 500, 50, 'time', 24, 15, 44),
  xAxes(1, 50, 500, 50, 'time', 24, 14, 40),
  xAxes(2, -1.5, 1.5, 0.5, 'time rel. peak', 6, 12, 40),
  xAxes(3, -1.5, 1.5, 0.5, 'time rel. peak', 6, 12, 40),
  xAxes(4, -1.5, 1.5, 0.5, 'Time relative to event peak', 6, 12, 40),
  xAxes(5, -1.5, 1.5, 0.5, 'Time relative to event peak', 6, 12, 40)
);
const yAxis = [
  yLeft(0, -0.36, 5, undefined, 'u', 33, 24, {
    splitNumber: 5,
    axisLabel: { fontSize: 25, color: INK, fontFamily: FONT, margin: 10, formatter: intOnly } }),
  yRight(0, -0.36, 5, undefined, 24, { splitNumber: 5 }),
  yLeft(1, -5, 5, 5, 'γ', 44, 24, {
    nameTextStyle: { fontSize: 29, color: INK, fontFamily: FONT, fontStyle: 'italic' } }),
  yRight(1, -5, 5, 5, 24),
  yLeft(2, 0.5, 2.5, 0.5, 'u', 56, 6),
  yRight(2, 0.5, 2.5, 0.5, 6),
  yLeft(3, -4, 4, 2, 'γ', 42, 6),
  yRight(3, -4, 4, 2, 6),
  yLeft(4, -4, 4, 2, 'γ', 41, 6),
  yRight(4, -4, 4, 2, 6),
  yLeft(5, 0, 1.5, 0.5, 'KL(cond || uncond)', 53, 6),
  yRight(5, 0, 0.4, 0.1, 6, {
    axisLine: { show: true, lineStyle: { color: '#6fa3d6', width: 1.5 } },
    axisTick: { inside: true, length: 6, lineStyle: { color: '#0072BD' } },
    axisLabel: { show: true, fontSize: 25, color: '#0072BD', fontFamily: FONT, margin: 11 },
    name: 'KL(smoother || filter)', nameLocation: 'middle', nameGap: 62, nameRotate: 90,
    nameTextStyle: { fontSize: 29, color: '#0072BD', fontFamily: FONT } })
];

const dotted = { color: '#222', width: 2, type: [2, 4] };
const dashedV = { color: '#222', width: 2, type: [16, 6] };
function eventLines(extra) {
  return {
    silent: true, symbol: 'none', label: { show: false }, animation: false,
    data: [
      { xAxis: -winHalf, lineStyle: dotted },
      { xAxis: 0, lineStyle: dashedV },
      { xAxis: winHalf, lineStyle: dotted }
    ].concat(extra || [])
  };
}
function windowArea(lo, hi, extra) {
  return {
    silent: true, animation: false,
    data: [[{ xAxis: -winHalf, yAxis: lo, itemStyle: { color: 'rgba(255,60,60,0.06)' } },
            { xAxis: winHalf, yAxis: hi }]].concat(extra || [])
  };
}
function band(gi, upT, up, loT, lo, fill, z, extra) {
  return Object.assign({
    type: 'custom', xAxisIndex: 2 * gi, yAxisIndex: 2 * gi, z, silent: true,
    data: [[0, 0]],
    renderItem: (params, api) => {
      const pts = upT.map((t, i) => api.coord([t, up[i]]));
      for (let i = loT.length - 1; i >= 0; i--) pts.push(api.coord([loT[i], lo[i]]));
      return { type: 'polygon', shape: { points: pts }, style: { fill } };
    }
  }, extra || {});
}
const climArea = [[{ xAxis: -1.5, yAxis: climRange[0], itemStyle: { color: 'rgba(0,0,0,0.075)' } },
                   { xAxis: 1.5, yAxis: climRange[1] }]];

const uLine = uTrace.concat(zip(peakT, peakU)).sort((a, b) => a[0] - b[0]);

const series = [
  // (a)
  { type: 'custom', xAxisIndex: 0, yAxisIndex: 0, z: 1, silent: true,
    data: peakT.map(t => [t, bandTop]),
    renderItem: (params, api) => {
      const t = api.value(0);
      const p0 = api.coord([t - winHalf, api.value(1)]);
      const p1 = api.coord([t + winHalf, -0.36]);
      return { type: 'rect', shape: { x: p0[0], y: p0[1], width: Math.max(p1[0] - p0[0], 2), height: p1[1] - p0[1] },
               style: { fill: 'rgba(255,80,80,0.09)' } };
    } },
  { type: 'line', xAxisIndex: 0, yAxisIndex: 0, z: 3, data: uLine, showSymbol: false,
    lineStyle: { color: '#000', width: 1.3 }, silent: true,
    markLine: { silent: true, symbol: 'none', label: { show: false }, animation: false,
      data: [{ yAxis: uThresh, lineStyle: { color: '#ff5050', width: 3, type: [22, 12] } }] } },
  { type: 'scatter', xAxisIndex: 0, yAxisIndex: 0, z: 6, data: zip(peakT, peakU),
    symbolSize: 9, itemStyle: { color: '#ff0000' }, silent: true },
  // (b)
  { type: 'line', xAxisIndex: 2, yAxisIndex: 2, z: 3, data: gTrace, showSymbol: false,
    lineStyle: { color: '#0000ff', width: 2 }, silent: true,
    markLine: { silent: true, symbol: 'none', label: { show: false }, animation: false,
      data: [{ yAxis: gThresh, lineStyle: { color: '#404040', width: 3, type: [22, 12] } }] } },
  // (c)
  { type: 'line', xAxisIndex: 4, yAxisIndex: 4, z: 3, data: zip(cT, cU), showSymbol: false,
    lineStyle: { color: '#000', width: 4.5 }, silent: true,
    markArea: windowArea(0.5, cWinTop),
    markLine: eventLines([{ yAxis: cThresh, lineStyle: { color: '#ff5a5a', width: 2, type: [18, 10] } }]) },
  // (d)
  band(3, dUpT, dUp, dLoT, dLo, 'rgba(150,205,250,0.45)', 3,
    { markArea: windowArea(dWin[0], dWin[1], climArea) }),
  { type: 'line', xAxisIndex: 6, yAxisIndex: 6, z: 2, data: [[-1.5, gBase], [1.5, gBase]], showSymbol: false,
    lineStyle: { color: '#606060', width: 3, type: [18, 8, 6, 8] }, silent: true },
  { type: 'line', xAxisIndex: 6, yAxisIndex: 6, z: 4, data: zip(dMeanT, dMean), showSymbol: false,
    lineStyle: { color: '#00ffff', width: 5 }, silent: true, markLine: eventLines() },
  // (e)
  band(4, eUpT, eUp, eLoT, eLo, 'rgba(240,100,100,0.28)', 3,
    { markArea: windowArea(eWin[0], eWin[1], climArea) }),
  { type: 'line', xAxisIndex: 8, yAxisIndex: 8, z: 2, data: [[-1.5, gBase], [1.5, gBase]], showSymbol: false,
    lineStyle: { color: '#707070', width: 3, type: [18, 8, 6, 8] }, silent: true },
  { type: 'line', xAxisIndex: 8, yAxisIndex: 8, z: 4, data: zip(eMeanT, eMean), showSymbol: false,
    lineStyle: { color: '#ff0000', width: 5 }, silent: true, markLine: eventLines() },
  // (f)
  { type: 'line', xAxisIndex: 10, yAxisIndex: 10, z: 3, data: zip(fT, klFilter), showSymbol: false,
    lineStyle: { color: '#ff0000', width: 4 }, silent: true,
    markArea: windowArea(0, fWinTop), markLine: eventLines() },
  { type: 'line', xAxisIndex: 10, yAxisIndex: 10, z: 4, data: zip(fT, klSmoother), showSymbol: false,
    lineStyle: { color: '#00ffff', width: 4.5 }, silent: true },
  { type: 'line', xAxisIndex: 10, yAxisIndex: 11, z: 5, data: zip(klSFT, klSF), showSymbol: false,
    lineStyle: { color: '#1a6dc0', width: 4, type: [18, 8] }, silent: true }
];

const titleStyle = { fontSize: 29, fontWeight: 'bold', color: INK, fontFamily: FONT };
const title = [
  { text: '(a) True signal of u', left: 1333, top: 10, textAlign: 'center', textStyle: titleStyle },
  { text: '(b)  True  signal  of  {g|γ}', left: 1333, top: 445, textAlign: 'center',
    textStyle: Object.assign({}, titleStyle, { rich: { g: { fontSize: 29, fontWeight: 'bold', fontStyle: 'italic', fontFamily: FONT, color: INK } } }) },
  { text: '(c) Representative observed path', left: 394, top: 868, textAlign: 'center', textStyle: titleStyle },
  { text: '(d) Most probable hidden path: smoother', left: 1020, top: 868, textAlign: 'center', textStyle: titleStyle },
  { text: '(e) Most probable hidden path: filter', left: 1646, top: 868, textAlign: 'center', textStyle: titleStyle },
  { text: '(f) KL divergence diagnostics', left: 2272, top: 868, textAlign: 'center', textStyle: titleStyle }
];

const chart = echarts.init(document.getElementById('chart'), null, { renderer: 'canvas' });
chart.setOption({
  animation: false,
  backgroundColor: '#ffffff',
  textStyle: { fontFamily: FONT },
  title, grid: grids, xAxis, yAxis, series,
  graphic: [
    { type: 'rect', left: 2527, top: 219, shape: { width: 6, height: 17 }, silent: true,
      style: { fill: 'none', stroke: '#ff0000', lineWidth: 1.5 } },
    { type: 'rect', left: 2527, top: 602, shape: { width: 6, height: 17 }, silent: true,
      style: { fill: 'none', stroke: '#000000', lineWidth: 1.5 } }
  ]
});
window.addEventListener('resize', () => chart.resize());
</script>
</body>
</html>
